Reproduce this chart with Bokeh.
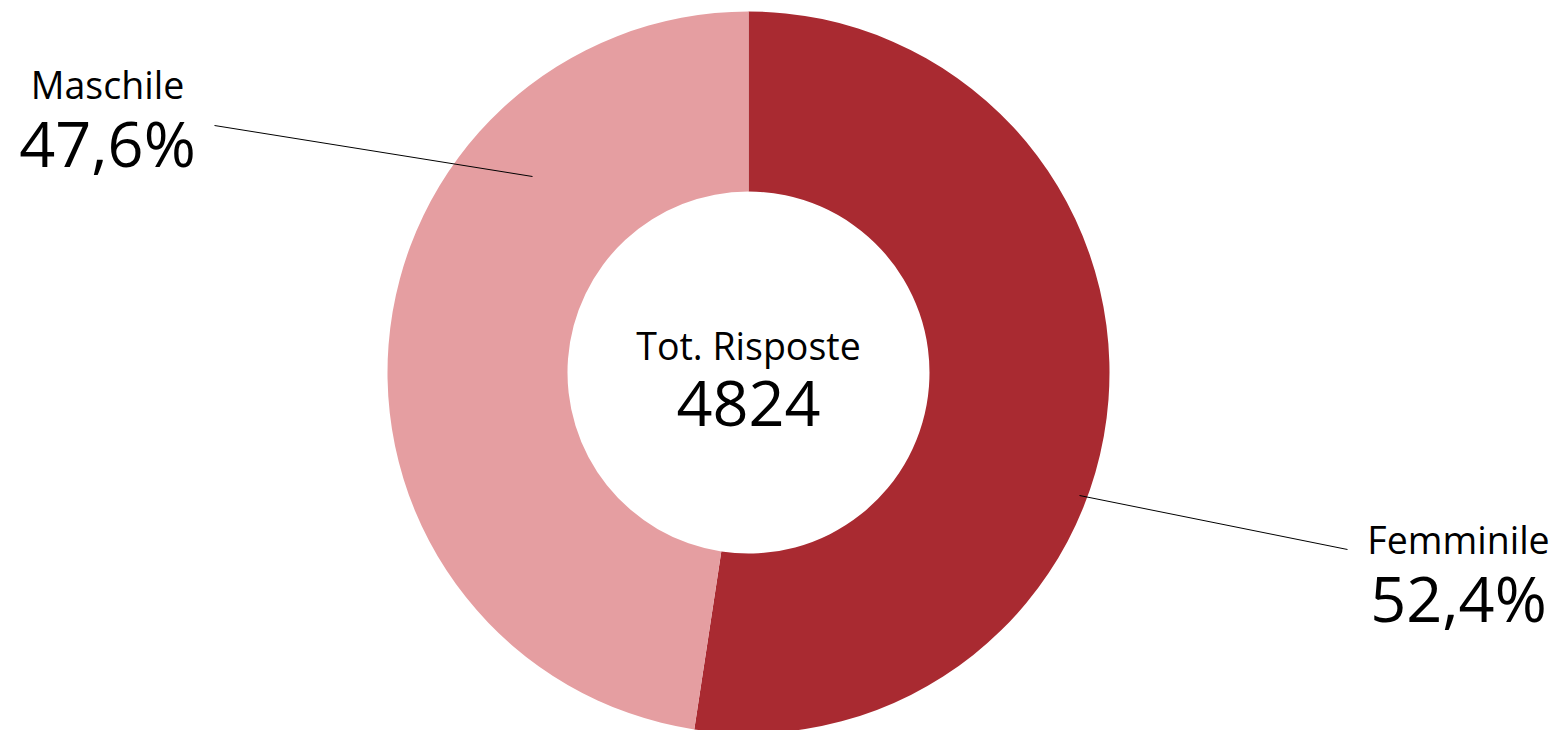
import math
from bokeh.plotting import figure
from bokeh.models import Range1d, ColumnDataSource
from bokeh.core.properties import value
from bokeh.embed import file_html
from bokeh.resources import INLINE

# ---- data ----
categories = ["Femminile", "Maschile"]
percentages = [52.4, 47.6]
total_responses = 4824
colors = ["#a92a31", "#e59ea1"]

# ---- layout constants (pixel coordinates, y up) ----
W, H = 1557, 730
cx, cy = 748, 358
r_outer, r_inner = 361, 181

p = figure(width=W, height=H, output_backend="svg", toolbar_location=None,
           x_range=Range1d(0, W), y_range=Range1d(0, H),
           x_axis_location=None, y_axis_location=None, min_border=0)
p.grid.visible = False
p.outline_line_color = None
p.background_fill_color = "white"
p.border_fill_color = "white"

# wedge angles from data (start at top, clockwise)
starts, ends = [], []
acc = 0.0
tot = sum(percentages)
for v in percentages:
    a0 = math.pi / 2 - 2 * math.pi * acc / tot
    acc += v
    a1 = math.pi / 2 - 2 * math.pi * acc / tot
    starts.append(a0)
    ends.append(a1)

src = ColumnDataSource(dict(cat=categories, start=starts, end=ends, color=colors))
p.annular_wedge(x=cx, y=cy, inner_radius=r_inner, outer_radius=r_outer,
                start_angle="start", end_angle="end", direction="clock",
                fill_color="color", line_color=None, source=src)

# leader lines
p.line(x=[214, 532], y=[605, 554], line_color="black", line_width=1)
p.line(x=[1079, 1347], y=[235, 181], line_color="black", line_width=1)

def fmt(v):
    return f"{v:.1f}".replace(".", ",") + "%"

font = value("Open Sans")
small, big = "37.5px", "63px"
label_pos = {"Maschile": (107, 646, 588), "Femminile": (1458, 191, 133)}
for c, v in zip(categories, percentages):
    x, yn, yv = label_pos[c]
    p.text(x=[x], y=[yn], text=[c], text_font=font, text_font_size=small,
           text_align="center", text_baseline="alphabetic", text_color="black")
    p.text(x=[x], y=[yv], text=[fmt(v)], text_font=font, text_font_size=big,
           text_align="center", text_baseline="alphabetic", text_color="black")

p.text(x=[cx], y=[385], text=["Tot. Risposte"], text_font=font, text_font_size=small,
       text_align="center", text_baseline="alphabetic", text_color="black")
p.text(x=[cx], y=[327], text=[str(total_responses)], text_font=font, text_font_size=big,
       text_align="center", text_baseline="alphabetic", text_color="black")

open("out.html", "w").write(file_html(p, INLINE))
